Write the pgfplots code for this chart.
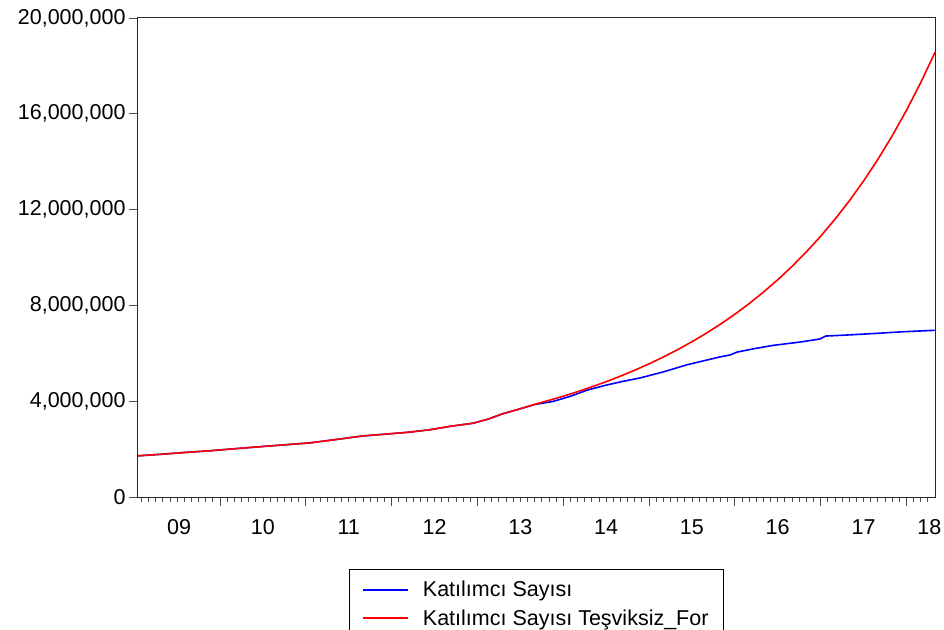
\documentclass[border=0pt]{standalone}
\usepackage{pgfplots}
\pgfplotsset{compat=1.18}
\usepackage{fontspec}
\setmainfont{Liberation Sans}
\begin{document}
\begin{tikzpicture}
\begin{axis}[
  at={(0,0)}, anchor=south west,
  scale only axis, width=797bp, height=479bp,
  xmin=0.53, xmax=112, ymin=0, ymax=20000000,
  axis line style={line width=1bp, black!85},
  tick align=outside, tick pos=left,
  major tick length=9bp, minor tick length=5bp,
  every tick/.style={black!70, line width=0.8bp},
  xtick={12,24,...,108}, xticklabels={},
  minor xtick={1,...,111},
  extra x ticks={6.27,18,30,42,54,66,78,90,102,111.2},
  extra x tick labels={09,10,11,12,13,14,15,16,17,18},
  extra x tick style={major tick length=0pt, xticklabel style={yshift=-19bp}},
  ytick={0,4000000,8000000,12000000,16000000,20000000},
  scaled y ticks=false,
  yticklabel style={/pgf/number format/.cd, fixed, 1000 sep={,}},
  /pgf/number format/assume math mode=true,
  tick label style={font=\fontsize{21.5bp}{25bp}\selectfont, text=black},
  legend style={at={(0.2647,-0.1503)}, anchor=north west, draw=black, line width=0.8bp,
    font=\fontsize{21.5bp}{24bp}\selectfont, inner xsep=13bp, inner ysep=10bp, row sep=7bp,
    column sep=12bp},
  legend cell align=left,
  legend image code/.code={\draw[#1, line width=1.6bp] (0bp,0bp) -- (45bp,0bp);},
]
\addplot[blue, line width=1.6bp] coordinates {
(0.53,1720000) (3.61,1780000) (7.10,1860000) (10.60,1930000) (14.24,2020000)
(17.59,2100000) (21.09,2180000) (24.59,2260000) (28.22,2400000) (32.0,2550000)
(35.78,2640000) (38.57,2710000) (41.37,2810000) (44.17,2950000) (47.38,3080000)
(49.48,3250000) (51.58,3480000) (53.96,3680000) (56.0,3860000)
(58.57,3990000) (60.95,4200000) (63.33,4460000) (65.85,4660000) (68.22,4820000)
(70.74,4970000) (73.96,5220000) (77.31,5520000) (80.25,5730000) (81.93,5850000)
(83.33,5930000) (84.31,6050000) (86.83,6200000) (89.34,6330000) (93.12,6470000)
(94.91,6550000) (95.92,6600000) (96.73,6720000) (100.11,6770000) (104.29,6840000)
(107.52,6900000) (112.0,6960000)
};
\addlegendentry{Katılımcı Sayısı}
\addplot[red, line width=1.6bp] coordinates {
(0.53,1720000) (3.61,1780000) (7.10,1860000) (10.60,1930000) (14.24,2020000)
(17.59,2100000) (21.09,2180000) (24.59,2260000) (28.22,2400000) (32.0,2550000)
(35.78,2640000) (38.57,2710000) (41.37,2810000) (44.17,2950000) (47.38,3080000)
(49.48,3250000) (51.58,3480000) (53.96,3680000)
(56,3869000) (58,4033000) (60,4209000) (62,4397000) (64,4598000) (66,4814000)
(68,5045000) (70,5293000) (72,5559000) (74,5844000) (76,6151000) (78,6481000)
(80,6836000) (82,7218000) (84,7630000) (86,8074000) (88,8553000) (90,9070000)
(92,9628000) (94,10232000) (96,10885000) (98,11593000) (100,12359000)
(102,13190000) (104,14093000) (106,15074000) (108,16140000) (110,17300000)
(112,18564000)
};
\addlegendentry{Katılımcı Sayısı Teşviksiz\_For}
\end{axis}
\pgfresetboundingbox
\path[use as bounding box] (-138bp,-133bp) rectangle (806bp,497bp);
\end{tikzpicture}
\end{document}
